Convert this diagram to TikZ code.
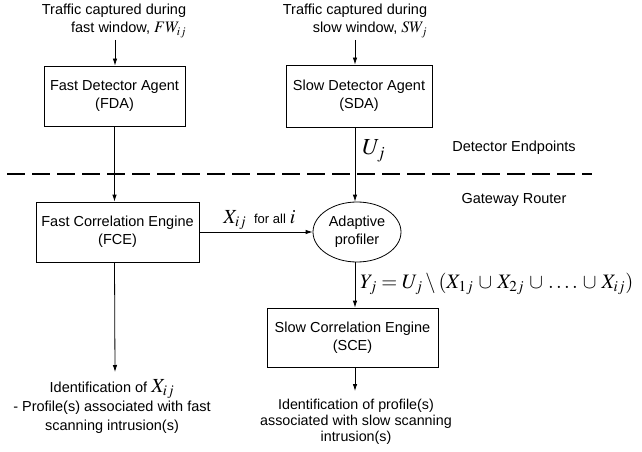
\documentclass[tikz,border=0pt]{standalone}
\usepackage{mathptmx}
\usepackage{fontspec}
\setmainfont{Liberation Sans}
\usetikzlibrary{arrows.meta,shapes.geometric}
\tikzstyle{block} = [rectangle, draw=black, line width=0.8pt, align=center, inner sep=0pt]
\tikzstyle{arrow} = [-{Latex[length=7pt,width=4.5pt]}, line width=0.8pt]
\tikzstyle{txt} = [align=center, inner sep=0pt]
\newcommand{\lgmath}[1]{{\fontsize{20}{20}\selectfont$#1$}}

\begin{document}
\begin{tikzpicture}[x=1pt,y=-1pt,font=\fontsize{14.5}{18}\selectfont]
\useasboundingbox (0,0) rectangle (642,452);

% inputs
\node[txt,align=right] (FWin) at (114,21) {Traffic captured during\\ fast window, {\fontsize{16}{16}\selectfont$FW_{ij}$}};
\node[txt,align=right] (SWin) at (355,21) {Traffic captured during\\ slow window, {\fontsize{16}{16}\selectfont$SW_{j}$}};
\coordinate (f0) at (115,40);
\coordinate (s0) at (355,40);

% agents
\node[block,minimum width=141,minimum height=60] (FDA) at (114.5,96) {Fast Detector Agent\\(FDA)};
\node[block,minimum width=146,minimum height=62] (SDA) at (359,96) {Slow Detector Agent\\(SDA)};

% boundary
\draw[line width=2.3,dash pattern=on 18 off 7] (7,174) -- (592,174);
\node[txt] (DE) at (514,148) {Detector Endpoints};
\node[txt] (GR) at (514,200) {Gateway Router};

% engines
\node[block,minimum width=163,minimum height=60] (FCE) at (117.5,232) {Fast Correlation Engine\\(FCE)};
\node[ellipse,draw,line width=0.8pt,align=center,inner sep=0pt,minimum width=88,minimum height=60] (AP) at (357,232) {Adaptive\\profiler};
\node[block,minimum width=171,minimum height=59] (SCE) at (352.5,337.5) {Slow Correlation Engine\\(SCE)};

% outputs
\node[txt,font=\fontsize{14.5}{19}\selectfont] (IdFast) at (112,407) {Identification of \lgmath{X_{ij}}\\- Profile(s) associated with fast\\scanning intrusion(s)};
\node[txt,font=\fontsize{14.3}{16}\selectfont] (IdSlow) at (356,422) {Identification of profile(s)\\associated with slow scanning\\intrusion(s)};
\coordinate (f1) at (115,372);
\coordinate (s1) at (355,391);

% arrows
\draw[arrow] (f0) -- (f0 |- FDA.north);
\draw[arrow] (s0) -- (s0 |- SDA.north);
\draw[arrow] (FDA.south) -- (FDA.south |- FCE.north);
\draw[arrow] (s0 |- SDA.south) -- (s0 |- AP.north);
\draw[arrow] (FCE.east) -- (AP.west)
  node[pos=0.2,anchor=south west,inner sep=1pt,yshift=1pt] (Xlab) {\lgmath{X_{ij}} {\fontsize{13}{13}\selectfont\ for all} \lgmath{i}};
\draw[arrow] (s0 |- AP.south) -- (s0 |- SCE.north);
\draw[arrow] (FDA.south |- FCE.south) -- (f1);
\draw[arrow] (s0 |- SCE.south) -- (s1);

% labels
\node[anchor=west,inner sep=0pt] (Ulab) at (362,151) {{\fontsize{23}{23}\selectfont$U_{j}$}};
\node[anchor=west,inner sep=0pt] (Ylab) at (360,284) {{\fontsize{20.5}{20.5}\selectfont$Y_{j} = U_{j} \setminus (X_{1j} \,\cup\, X_{2j} \,\cup\, \ldots. \,\cup\, X_{ij})$}};
\end{tikzpicture}
\end{document}
